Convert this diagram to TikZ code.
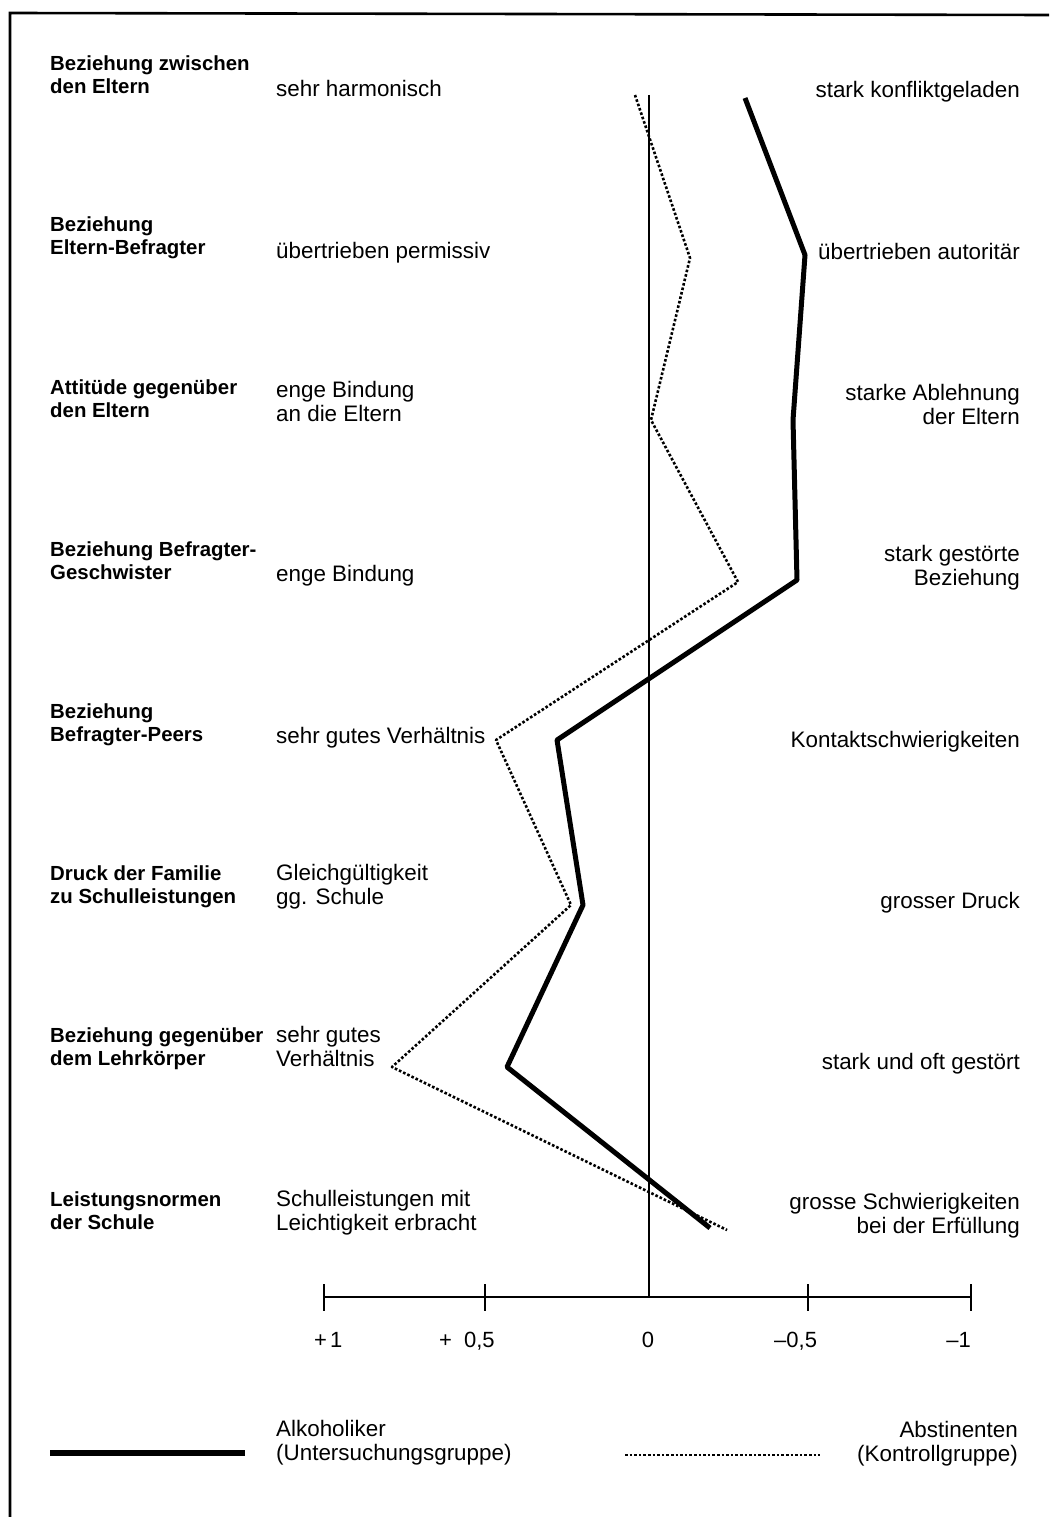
\documentclass[tikz,border=0pt]{standalone}
\usepackage{fontspec}
\setmainfont{Liberation Sans}
\usetikzlibrary{positioning}

\tikzset{
  frage/.style={font=\bfseries\fontsize{20.4}{23}\selectfont, align=left, anchor=base west, inner sep=0pt},
  pol/.style={font=\fontsize{22.4}{24}\selectfont, align=left, anchor=base west, inner sep=0pt},
  polr/.style={pol, align=right, anchor=base east},
  skala/.style={font=\fontsize{22}{24}\selectfont, inner sep=0pt},
  alk/.style={line width=5pt, line join=round},
  abst/.style={line width=2.6pt, dotted, line join=round},
}

\begin{document}
\begin{tikzpicture}[x=1pt, y=-1pt]
    \useasboundingbox (0,0) rectangle (1049,1517);

    % Rahmen
    \draw[line width=2.6pt] (10,1517) -- (10,13) -- (1049,15);

    % Fragen
    \node[frage] (f1) at (50,94) {Beziehung zwischen\\den Eltern};
    \node[frage] (f2) at (50,254) {Beziehung\\Eltern-Befragter};
    \node[frage] (f3) at (50,417) {Attitüde gegenüber\\den Eltern};
    \node[frage] (f4) at (50,579) {Beziehung Befragter-\\Geschwister};
    \node[frage] (f5) at (50,741) {Beziehung\\Befragter-Peers};
    \node[frage] (f6) at (50,903) {Druck der Familie\\zu Schulleistungen};
    \node[frage] (f7) at (50,1065) {Beziehung gegenüber\\dem Lehrkörper};
    \node[frage] (f8) at (50,1229) {Leistungsnormen\\der Schule};

    % positiver Pol
    \node[pol] (p1) at (276,97) {sehr harmonisch};
    \node[pol] (p2) at (276,258) {übertrieben permissiv};
    \node[pol] (p3) at (276,421) {enge Bindung\\an die Eltern};
    \node[pol] (p4) at (276,581) {enge Bindung};
    \node[pol] (p5) at (276,743) {sehr gutes Verhältnis};
    \node[pol] (p6) at (276,904) {Gleichgültigkeit\\gg. Schule};
    \node[pol] (p7) at (276,1066) {sehr gutes\\Verhältnis};
    \node[pol] (p8) at (276,1230) {Schulleistungen mit\\Leichtigkeit erbracht};

    % negativer Pol
    \node[polr] (n1) at (1020,98) {stark konfliktgeladen};
    \node[polr] (n2) at (1020,259) {übertrieben autoritär};
    \node[polr] (n3) at (1020,424) {starke Ablehnung\\der Eltern};
    \node[polr] (n4) at (1020,585) {stark gestörte\\Beziehung};
    \node[polr] (n5) at (1020,747) {Kontaktschwierigkeiten};
    \node[polr] (n6) at (1020,908) {grosser Druck};
    \node[polr] (n7) at (1020,1069) {stark und oft gestört};
    \node[polr] (n8) at (1020,1233) {grosse Schwierigkeiten\\bei der Erfüllung};

    % Skala
    \coordinate (s0) at (649,1297);
    \coordinate (nulloben) at (649,95);
    \draw[line width=1.3pt] (324,1297) -- (971,1297);
    \draw[line width=1.3pt] (nulloben) -- (s0);
    \foreach \x in {324, 485, 808, 971} {
        \draw[line width=1.3pt] (\x,1284) -- (\x,1311);
    }
    \node[skala, anchor=base west] (t1) at (314,1347) {+\hspace{3pt}1};
    \node[skala, anchor=base west] (t2) at (439,1347) {+\hspace{12pt}0,5};
    \node[skala, anchor=base] (t3) at (648,1347) {0};
    \node[skala, anchor=base west] (t4) at (774,1347) {\textendash0,5};
    \node[skala, anchor=base east] (t5) at (971,1347) {\textendash1};

    % Profile
    \foreach \i/\xa/\ya/\xk/\yk in {1/745/98/635/95, 2/805/255/690/258, 3/793/420/651/420,
        4/797/580/738/582, 5/557/740/496/740, 6/583/905/571/905,
        7/507/1067/392/1067, 8/710/1228/727/1230} {
        \coordinate (a\i) at (\xa,\ya);
        \coordinate (k\i) at (\xk,\yk);
    }
    \draw[alk] (a1) -- (a2) -- (a3) -- (a4) -- (a5) -- (a6) -- (a7) -- (a8);
    \draw[abst] (k1) -- (k2) -- (k3) -- (k4) -- (k5) -- (k6) -- (k7) -- (k8);

    % Legende
    \coordinate (la) at (50,1453);
    \coordinate (lb) at (245,1453);
    \coordinate (lc) at (625,1455);
    \coordinate (ld) at (820,1455);
    \draw[alk, line width=6pt] (la) -- (lb);
    \draw[abst, line width=2pt] (lc) -- (ld);
    \node[pol] (lalk) at (276,1460) {Alkoholiker\\(Untersuchungsgruppe)};
    \node[polr] (labst) at (1018,1461) {Abstinenten\\(Kontrollgruppe)};
\end{tikzpicture}
\end{document}
